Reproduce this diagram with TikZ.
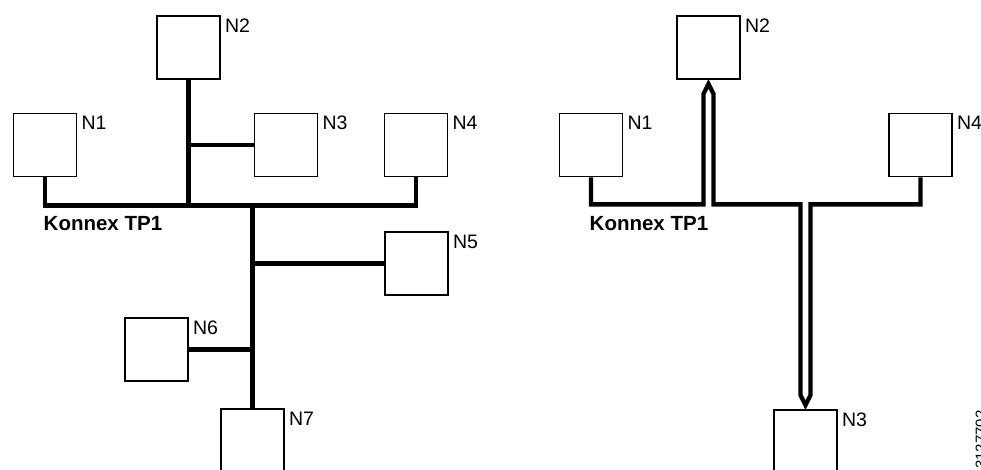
\documentclass[tikz,border=0pt]{standalone}
\usepackage{fontspec}
\setmainfont{Liberation Sans}
\usetikzlibrary{positioning,calc}

\begin{document}
\begin{tikzpicture}[x=1pt,y=-1pt]
                    \tikzstyle{box}=[draw,fill=white,rectangle,line width=1.8,minimum size=63,inner sep=0]
                    \tikzstyle{tag}=[anchor=north west,inner sep=0,font=\fontsize{19.5}{19.5}\selectfont]
                    \tikzstyle{buslabel}=[anchor=north west,inner sep=0,font=\fontsize{20.5}{20.5}\selectfont\bfseries]
                    \tikzstyle{bus}=[line width=4.3,line join=miter]
                    \useasboundingbox (0,0) rectangle (981,470);
                    {
                        % left: tree topology
                        \node[box] (n1) at (45,145) {};
                        \node[box] (n2) at (188.5,47.5) {};
                        \node[box] (n3) at (286,145) {};
                        \node[box] (n4) at (416,145) {};
                        \node[box] (n5) at (416.5,263.5) {};
                        \node[box] (n6) at (156.5,349.5) {};
                        \node[box] (n7) at (252.5,440.5) {};

                        \node[tag] (t1) at ([xshift=4,yshift=-3.5]n1.north east) {N1};
                        \node[tag] (t2) at ([xshift=4,yshift=-3.5]n2.north east) {N2};
                        \node[tag] (t3) at ([xshift=4,yshift=-3.5]n3.north east) {N3};
                        \node[tag] (t4) at ([xshift=4,yshift=-3.5]n4.north east) {N4};
                        \node[tag] (t5) at ([xshift=4,yshift=-3.5]n5.north east) {N5};
                        \node[tag] (t6) at ([xshift=4,yshift=-3.5]n6.north east) {N6};
                        \node[tag] (t7) at ([xshift=4,yshift=-3.5]n7.north east) {N7};
                        \node[buslabel] (ltp) at ([xshift=-1.5,yshift=-39]n1.south) {Konnex TP1};

                        \coordinate (lbus) at ($(n1.south)+(0,28)$);
                        \draw[bus] (n1.south) |- (lbus -| n4.south) -- (n4.south);
                        \draw[bus] (n2.south) -- (n2.south |- lbus);
                        \draw[bus] (n3.west) -- (n3.west -| n2.south);
                        \draw[bus] (lbus -| n7.north) -- (n7.north);
                        \draw[bus] (n5.west) -- (n5.west -| n7.north);
                        \draw[bus] (n6.east) -- (n6.east -| n7.north);
                    }
                    {
                        % right: line with route N2 -> N3
                        \node[box] (r1) at (591,145) {};
                        \node[box] (r2) at (708.5,47.5) {};
                        \node[box] (r3) at (805.5,441.5) {};
                        \node[box] (r4) at (920.5,145) {};

                        \node[tag] (u1) at ([xshift=4,yshift=-3.5]r1.north east) {N1};
                        \node[tag] (u2) at ([xshift=4,yshift=-3.5]r2.north east) {N2};
                        \node[tag] (u3) at ([xshift=4,yshift=-3.5]r3.north east) {N3};
                        \node[tag] (u4) at ([xshift=4,yshift=-3.5]r4.north east) {N4};
                        \node[buslabel] (rtp) at ([xshift=-1.5,yshift=-39]r1.south) {Konnex TP1};

                        \coordinate (rbus) at ($(r1.south)+(0,27)$);
                        \coordinate (ra) at ($(r2.south)+(0,4)$);
                        \coordinate (rb) at ($(r3.north)+(0,-4)$);
                        \draw[bus] (r1.south) |- ($(rbus -| ra)+(-5,0)$)
                            -- ($(ra)+(-5,10)$) -- (ra) -- ($(ra)+(5,10)$)
                            -- ($(rbus -| ra)+(5,0)$) -- ($(rbus -| rb)+(-5,0)$)
                            -- ($(rb)+(-5,-10)$) -- (rb) -- ($(rb)+(5,-10)$)
                            -- ($(rbus -| rb)+(5,0)$) -| (r4.south);

                        \node[rotate=90,anchor=base west,inner sep=0,font=\fontsize{15}{15}\selectfont] (code) at (986,469) {3127702};
                    }
\end{tikzpicture}
\end{document}
